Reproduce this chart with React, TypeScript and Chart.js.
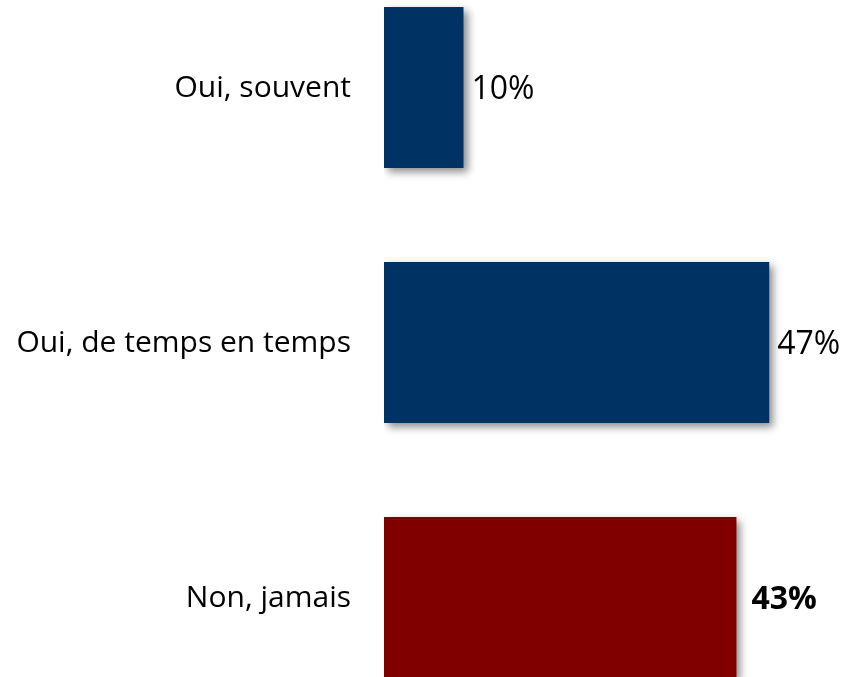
import React, { useEffect, useRef } from "react";
import { Chart, registerables } from "chart.js";

Chart.register(...registerables);

const categories = ["Oui, souvent", "Oui, de temps en temps", "Non, jamais"];
const values = [9.7, 47, 43];
const valueLabels = ["10%", "47%", "43%"];
const boldLabel = [false, false, true];
const barColors = ["#003263", "#003263", "#800000"];

const FONT = "'Open Sans', 'Noto Sans', sans-serif";

const shadowPlugin = {
  id: "barShadow",
  beforeDatasetsDraw(chart: any) {
    const ctx = chart.ctx;
    ctx.save();
    ctx.shadowColor = "rgba(0,0,0,0.45)";
    ctx.shadowBlur = 8;
    ctx.shadowOffsetX = 4;
    ctx.shadowOffsetY = 4;
  },
  afterDatasetsDraw(chart: any) {
    const ctx = chart.ctx;
    ctx.restore();
    const meta = chart.getDatasetMeta(0);
    const yScale = chart.scales.y;
    ctx.save();
    ctx.fillStyle = "#000";
    ctx.textBaseline = "middle";
    meta.data.forEach((bar: any, i: number) => {
      ctx.textAlign = "left";
      ctx.font = (boldLabel[i] ? "bold 32px " : "32px ") + FONT;
      ctx.fillText(valueLabels[i], bar.x + (boldLabel[i] ? 15 : 8), bar.y + 2);
      ctx.textAlign = "right";
      ctx.font = "30px " + FONT;
      ctx.fillText(String(chart.data.labels[i]), chart.chartArea.left - 33, yScale.getPixelForValue(i) + 1);
    });
    ctx.restore();
  },
};

export default function App() {
  const ref = useRef<HTMLCanvasElement>(null);
  useEffect(() => {
    if (!ref.current) return;
    const chart = new Chart(ref.current, {
      type: "bar",
      data: {
        labels: categories,
        datasets: [
          {
            data: values,
            backgroundColor: barColors,
            borderWidth: 0,
            barPercentage: 0.631,
            categoryPercentage: 1,
          },
        ],
      },
      plugins: [shadowPlugin],
      options: {
        indexAxis: "y",
        animation: false,
        responsive: false,
        maintainAspectRatio: false,
        devicePixelRatio: 1,
        layout: { padding: { left: 384, right: 0, top: 0, bottom: 0 } },
        plugins: {
          legend: { display: false },
          tooltip: { enabled: false },
        },
        scales: {
          x: { min: 0, max: 56, display: false },
          y: { display: false },
        },
      },
    });
    return () => chart.destroy();
  }, []);
  return (
    <div style={{ position: "fixed", left: 0, top: 0, width: 843, height: 677, overflow: "hidden", background: "#fff" }}>
      <canvas
        ref={ref}
        width={843}
        height={765}
        style={{ position: "absolute", left: 0, top: -40, width: 843, height: 765 }}
      />
    </div>
  );
}
